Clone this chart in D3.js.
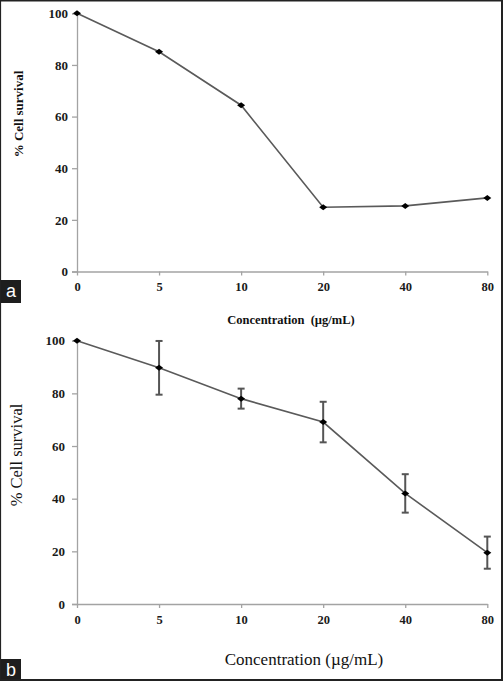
<!DOCTYPE html>
<html>
<head>
<meta charset="utf-8">
<script src="https://cdn.jsdelivr.net/npm/d3@7"></script>
<style>
html,body{margin:0;padding:0;background:#fff;}
svg{display:block;}
</style>
</head>
<body>
<svg id="chart" width="503" height="681"></svg>
<script>
// ---- data ----
const categories = ["0", "5", "10", "20", "40", "80"];
const survivalA = [100, 85.1, 64.4, 24.9, 25.4, 28.5];
const survivalB = [100, 89.7, 78.0, 69.1, 42.0, 19.5];
const errorB = [0, 10.2, 3.8, 7.7, 7.3, 6.1];
const yTicks = [0, 20, 40, 60, 80, 100];
const xTitle = "Concentration (µg/mL)";
const yTitle = "% Cell survival";

const svg = d3.select("#chart");
svg.append("rect").attr("width", 503).attr("height", 681).attr("fill", "#fff");

const serif = "'Liberation Serif', 'Times New Roman', serif";
const axisColor = "#a3a3a3";
const lineColor = "#5a5a5a";

function panel(opts) {
  const x = d3.scalePoint().domain(categories).range([77, 487.3]);
  const y = d3.scaleLinear().domain([0, 100]).range([opts.y0, opts.y100]);
  const g = svg.append("g");

  // y axis
  const ya = g.append("g").attr("transform", "translate(77,0)")
    .call(d3.axisLeft(y).tickValues(yTicks).tickSize(5).tickPadding(4).tickFormat(d3.format("d")));
  ya.select(".domain").attr("stroke", axisColor).attr("stroke-width", 1.3);
  ya.selectAll(".tick line").attr("stroke", axisColor).attr("stroke-width", 1.3);
  ya.selectAll(".tick text").attr("font-family", serif).attr("font-weight", "bold")
    .attr("font-size", opts.yTickSize).attr("fill", "#1a1a1a").attr("x", opts.yTickX - 77);

  // x axis
  const xa = g.append("g").attr("transform", `translate(0,${opts.y0})`)
    .call(d3.axisBottom(x).tickSize(4).tickSizeOuter(0));
  xa.select(".domain").attr("stroke", axisColor).attr("stroke-width", 1.3);
  xa.selectAll(".tick line").attr("stroke", axisColor).attr("stroke-width", 1.3);
  xa.selectAll(".tick text").attr("font-family", serif).attr("font-weight", "bold")
    .attr("font-size", 12.5).attr("fill", "#1a1a1a").attr("y", opts.xTickY - opts.y0).attr("dy", 0);

  // error bars
  if (opts.err) {
    const eb = g.append("g").attr("stroke", "#555").attr("stroke-width", 2);
    opts.data.forEach((v, i) => {
      const e = opts.err[i];
      if (!e) return;
      const cx = x(categories[i]);
      eb.append("line").attr("x1", cx).attr("x2", cx).attr("y1", y(v + e)).attr("y2", y(v - e));
      [v + e, v - e].forEach(t => {
        eb.append("line").attr("x1", cx - 3.5).attr("x2", cx + 3.5).attr("y1", y(t)).attr("y2", y(t));
      });
    });
  }

  // line
  const line = d3.line().x((d, i) => x(categories[i])).y(d => y(d));
  g.append("path").datum(opts.data).attr("d", line)
    .attr("fill", "none").attr("stroke", lineColor).attr("stroke-width", 1.6);

  // markers (diamonds)
  g.selectAll(".mk").data(opts.data).enter().append("path")
    .attr("d", "M0,-3L4,0L0,3L-4,0Z")
    .attr("transform", (d, i) => `translate(${x(categories[i])},${y(d)})`)
    .attr("fill", "#000");

  // titles
  g.append("text").attr("x", opts.xTitleX).attr("y", opts.xTitleY)
    .attr("text-anchor", "middle").attr("font-family", serif)
    .attr("font-weight", opts.bold ? "bold" : "normal")
    .attr("font-size", opts.xTitleSize).attr("fill", "#111")
    .style("white-space", "pre")
    .text(opts.bold ? "Concentration  (µg/mL)" : xTitle);

  g.append("text").attr("transform", `translate(${opts.yTitleX},${opts.yTitleY}) rotate(-90)`)
    .attr("text-anchor", "middle").attr("font-family", serif)
    .attr("font-weight", opts.bold ? "bold" : "normal")
    .attr("font-size", opts.yTitleSize).attr("fill", "#111")
    .text(yTitle);

  // panel label
  svg.append("rect").attr("x", 0).attr("y", opts.labY).attr("width", 21).attr("height", opts.labH).attr("fill", "#1e1e1e");
  svg.append("text").attr("x", 11).attr("y", opts.labBase).attr("text-anchor", "middle")
    .attr("font-family", "'Liberation Sans', Arial, sans-serif").attr("font-size", 18)
    .attr("fill", "#fff").text(opts.label);
}

panel({
  data: survivalA, y0: 271.5, y100: 13.3, yTickX: 68, yTickSize: 13, xTickY: 290.5,
  xTitleX: 291, xTitleY: 324, xTitleSize: 12.5, yTitleX: 23, yTitleY: 114, yTitleSize: 13,
  bold: true, label: "a", labY: 280, labH: 23, labBase: 297
});
panel({
  data: survivalB, err: errorB, y0: 604, y100: 340.7, yTickX: 65, yTickSize: 13, xTickY: 624,
  xTitleX: 304, xTitleY: 665, xTitleSize: 17, yTitleX: 22, yTitleY: 455, yTitleSize: 16.5,
  bold: false, label: "b", labY: 659, labH: 22, labBase: 676
});

// frame
const fr = svg.append("g").attr("stroke", "#222").attr("fill", "none");
fr.append("line").attr("x1", 0.5).attr("x2", 0.5).attr("y1", 0).attr("y2", 681).attr("stroke-width", 1.2);
fr.append("line").attr("x1", 0).attr("x2", 503).attr("y1", 0.7).attr("y2", 0.7).attr("stroke-width", 1.5);
fr.append("line").attr("x1", 502).attr("x2", 502).attr("y1", 0).attr("y2", 681).attr("stroke-width", 2);
fr.append("line").attr("x1", 0).attr("x2", 503).attr("y1", 680).attr("y2", 680).attr("stroke-width", 2);
</script>
</body>
</html>
